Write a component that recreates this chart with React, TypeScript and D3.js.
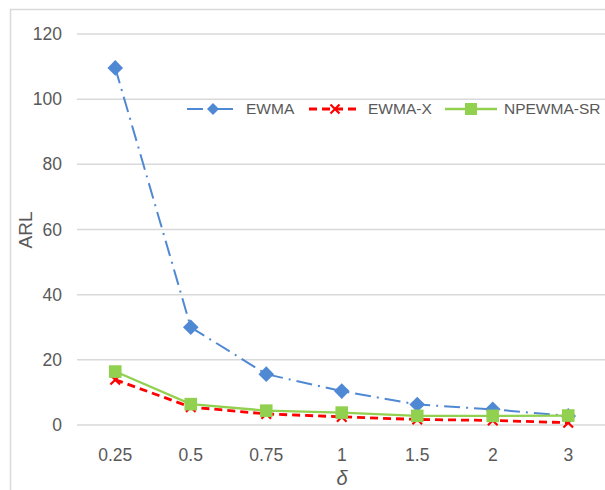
import React, { useEffect, useRef } from 'react';
import * as d3 from 'd3';

const deltas = ['0.25', '0.5', '0.75', '1', '1.5', '2', '3'];
const ewma = [109.6, 30.0, 15.6, 10.4, 6.3, 4.8, 2.8];
const ewmaX = [13.9, 5.5, 3.4, 2.5, 1.7, 1.4, 0.7];
const npewmaSR = [16.4, 6.4, 4.4, 3.8, 2.8, 2.8, 2.9];
const yTicks = [0, 20, 40, 60, 80, 100, 120];

const W = 605;
const H = 490;
const FONT = '"Liberation Sans", Arial, sans-serif';

const App = () => {
  const svgRef = useRef<SVGSVGElement>(null);

  useEffect(() => {
    const svg = d3.select(svgRef.current);
    svg.selectAll('*').remove();

    const x = d3.scaleBand().domain(deltas).range([77.5, 606]);
    const y = d3.scaleLinear().domain([0, 120]).range([425, 34]);
    const cx = (d: string) => (x(d) as number) + x.bandwidth() / 2;

    svg.append('rect')
      .attr('width', W).attr('height', H).attr('fill', '#fff');

    // outer chart border (runs off the image right and bottom)
    svg.append('rect')
      .attr('x', 10.5).attr('y', 9.5)
      .attr('width', 700).attr('height', 600)
      .attr('fill', 'none').attr('stroke', '#d9d9d9').attr('stroke-width', 1.5);

    // gridlines
    svg.append('g')
      .selectAll('line')
      .data(yTicks)
      .join('line')
        .attr('x1', 77).attr('x2', W)
        .attr('y1', d => y(d)).attr('y2', d => y(d))
        .attr('stroke', '#d9d9d9').attr('stroke-width', 1.5);

    // y tick labels
    svg.append('g')
      .selectAll('text')
      .data(yTicks)
      .join('text')
        .attr('x', 62).attr('y', d => y(d))
        .attr('dy', '0.35em')
        .attr('text-anchor', 'end')
        .attr('font-family', FONT).attr('font-size', 17.5)
        .attr('fill', '#595959')
        .text(d => d);

    // x tick labels
    svg.append('g')
      .selectAll('text')
      .data(deltas)
      .join('text')
        .attr('x', d => cx(d)).attr('y', 455)
        .attr('dy', '0.35em')
        .attr('text-anchor', 'middle')
        .attr('font-family', FONT).attr('font-size', 17.5)
        .attr('fill', '#595959')
        .text(d => d);

    // axis titles
    svg.append('text')
      .attr('x', 342).attr('y', 478).attr('dy', '0.35em')
      .attr('text-anchor', 'middle')
      .attr('font-family', FONT).attr('font-size', 20).attr('font-style', 'italic')
      .attr('fill', '#595959')
      .text('δ');

    svg.append('text')
      .attr('transform', 'translate(25,230) rotate(-90)')
      .attr('dy', '0.35em')
      .attr('text-anchor', 'middle')
      .attr('font-family', FONT).attr('font-size', 19)
      .attr('fill', '#595959')
      .text('ARL');

    const series = [
      { name: 'EWMA', values: ewma, color: '#5089d3', dash: '16,6,2,6', width: 2, marker: 'diamond' },
      { name: 'EWMA-X', values: ewmaX, color: '#ff0000', dash: '8,5', width: 2.8, marker: 'cross' },
      { name: 'NPEWMA-SR', values: npewmaSR, color: '#92d050', dash: null, width: 2.3, marker: 'square' },
    ];

    const line = d3.line<number>()
      .x((d, i) => cx(deltas[i]))
      .y(d => y(d));

    const drawMarker = (g: any, kind: string, color: string, px: number, py: number, r: number) => {
      if (kind === 'diamond') {
        g.append('path')
          .attr('d', `M${px},${py - r}L${px + r},${py}L${px},${py + r}L${px - r},${py}Z`)
          .attr('fill', color);
      } else if (kind === 'square') {
        g.append('rect')
          .attr('x', px - r).attr('y', py - r)
          .attr('width', 2 * r).attr('height', 2 * r)
          .attr('fill', color);
      } else {
        g.append('path')
          .attr('d', `M${px - r},${py - r}L${px + r},${py + r}M${px + r},${py - r}L${px - r},${py + r}`)
          .attr('stroke', color).attr('stroke-width', 2.2);
      }
    };
    const chartSize: Record<string, number> = { diamond: 7.8, square: 6.3, cross: 4.8 };
    const legendSize: Record<string, number> = { diamond: 6, square: 6, cross: 4.5 };

    series.forEach(s => {
      const g = svg.append('g');
      g.append('path')
        .datum(s.values)
        .attr('d', line)
        .attr('fill', 'none')
        .attr('stroke', s.color)
        .attr('stroke-width', s.width)
        .attr('stroke-dasharray', s.dash);
      s.values.forEach((v, i) =>
        drawMarker(g, s.marker, s.color, cx(deltas[i]), y(v), chartSize[s.marker]));
    });

    // legend
    const legendX = [187, 309, 445];
    const legendY = 109;
    series.forEach((s, i) => {
      const g = svg.append('g');
      const x0 = legendX[i];
      g.append('line')
        .attr('x1', x0).attr('x2', x0 + 52)
        .attr('y1', legendY).attr('y2', legendY)
        .attr('stroke', s.color).attr('stroke-width', s.width)
        .attr('stroke-dasharray', s.dash);
      drawMarker(g, s.marker, s.color, x0 + 26, legendY, legendSize[s.marker]);
      g.append('text')
        .attr('x', x0 + 59).attr('y', legendY).attr('dy', '0.35em')
        .attr('font-family', FONT).attr('font-size', 15.5)
        .attr('fill', '#595959')
        .text(s.name);
    });
  }, []);

  return (
    <svg
      ref={svgRef}
      width={W}
      height={H}
      style={{ position: 'fixed', left: 0, top: 0, display: 'block' }}
    />
  );
};

export default App;
